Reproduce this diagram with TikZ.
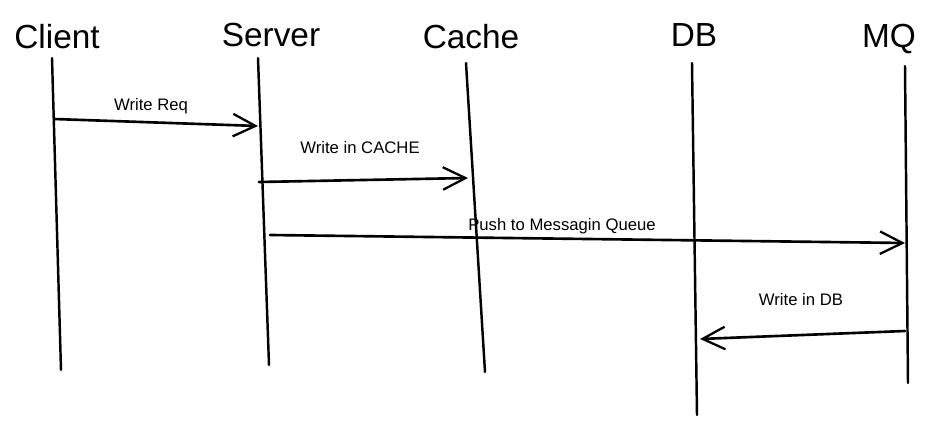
\documentclass[tikz,border=0pt]{standalone}
\usepackage{fontspec}
\setmainfont{Liberation Sans}
\usetikzlibrary{arrows.meta}
\tikzset{
  lifeline/.style={line width=1.4pt,line cap=round},
  msg/.style={line width=1.5pt,line cap=round,-{Straight Barb[length=4.5mm,width=4.5mm,line width=1.3pt]}},
  actor/.style={font=\fontsize{19}{22}\selectfont},
  msglabel/.style={font=\fontsize{9.5}{11}\selectfont}
}
\begin{document}
\begin{tikzpicture}[x=0.02cm,y=-0.02cm,line join=round]
  \useasboundingbox (0,0) rectangle (934,426);
  % actors
  \node[actor] (client) at (57,37) {Client};
  \node[actor] (server) at (271,35) {Server};
  \node[actor] (cache) at (471,37) {Cache};
  \node[actor] (db) at (694,35) {DB};
  \node[actor] (mq) at (889,39) {MQ};
  % lifelines
  \coordinate (clientB) at (61,370);
  \coordinate (serverB) at (269,365);
  \coordinate (cacheB) at (485,372);
  \coordinate (dbB) at (697,415);
  \coordinate (mqB) at (908,383);
  \draw[lifeline] (52,58) coordinate (clientT) -- (clientB);
  \draw[lifeline] (258,58) coordinate (serverT) -- (serverB);
  \draw[lifeline] (466,63) coordinate (cacheT) -- (cacheB);
  \draw[lifeline] (692,63) coordinate (dbT) -- (dbB);
  \draw[lifeline] (905,66) coordinate (mqT) -- (mqB);
  % messages
  \coordinate (m1a) at (54,119); \coordinate (m1b) at (258,126);
  \coordinate (m2a) at (259,182); \coordinate (m2b) at (468,178);
  \coordinate (m3a) at (270,235); \coordinate (m3b) at (905,243);
  \coordinate (m4a) at (905,331); \coordinate (m4b) at (700,339);
  \draw[msg] (m1a) -- (m1b);
  \draw[msg] (m2a) -- (m2b);
  \draw[msg] (m3a) -- (m3b);
  \draw[msg] (m4a) -- (m4b);
  \node[msglabel] (l1) at (151,106) {Write Req};
  \node[msglabel] (l2) at (360,148) {Write in CACHE};
  \node[msglabel] (l3) at (562,226) {Push to Messagin Queue};
  \node[msglabel] (l4) at (801,300) {Write in DB};
\end{tikzpicture}
\end{document}
